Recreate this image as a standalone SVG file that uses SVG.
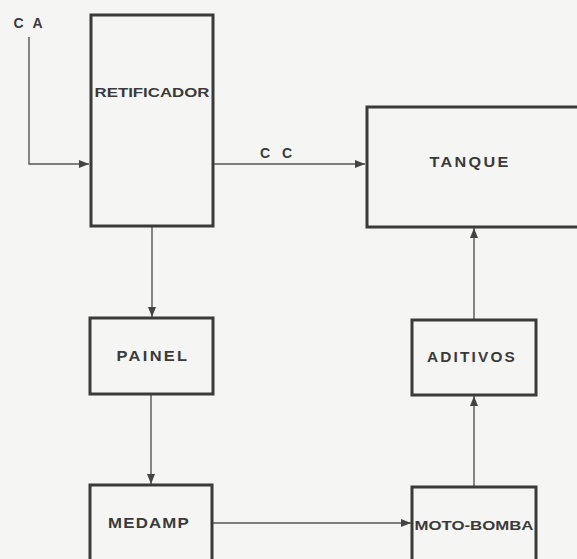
<svg xmlns="http://www.w3.org/2000/svg" width="577" height="559" viewBox="0 0 577 559">
<style>
.box{fill:none;stroke:#3a3a3a;stroke-width:3}
.lbl{font-family:"Liberation Sans",Arial,sans-serif;font-weight:bold;font-size:14px;fill:#3a3a3a;text-anchor:middle;dominant-baseline:central}
.sm{font-size:13px}
.con{fill:none;stroke:#555;stroke-width:1.4}
</style>
<defs>
<marker id="ah" viewBox="0 0 10 8" refX="10" refY="4" markerWidth="10" markerHeight="8" markerUnits="userSpaceOnUse" orient="auto">
<path d="M0,0 L10,4 L0,8 Z" fill="#444"/>
</marker>
</defs>
<rect width="577" height="559" fill="#f5f5f3"/>
<g id="connectors">
<path class="con" d="M29,37 V164 H89" marker-end="url(#ah)"/>
<path class="con" d="M213,164 H365" marker-end="url(#ah)"/>
<path class="con" d="M152,227 V317" marker-end="url(#ah)"/>
<path class="con" d="M151,394 V484" marker-end="url(#ah)"/>
<path class="con" d="M213,523 H411" marker-end="url(#ah)"/>
<path class="con" d="M474,487 V396" marker-end="url(#ah)"/>
<path class="con" d="M474,320 V228" marker-end="url(#ah)"/>
<text class="lbl" x="28" y="23" textLength="29" lengthAdjust="spacing">C A</text>
<text class="lbl" x="276" y="153" textLength="32" lengthAdjust="spacing">C C</text>
</g>
<g id="retificador">
<rect class="box" x="91" y="15" width="122" height="211"/>
<text class="lbl sm" x="152" y="92" textLength="115" lengthAdjust="spacingAndGlyphs">RETIFICADOR</text>
</g>
<g id="tanque">
<rect class="box" x="367" y="107" width="220" height="120"/>
<text class="lbl" x="470" y="162" textLength="81" lengthAdjust="spacingAndGlyphs" letter-spacing="2">TANQUE</text>
</g>
<g id="painel">
<rect class="box" x="90" y="318" width="123" height="76"/>
<text class="lbl" x="153" y="356" textLength="73" lengthAdjust="spacingAndGlyphs" letter-spacing="2">PAINEL</text>
</g>
<g id="medamp">
<rect class="box" x="90" y="485" width="122" height="100"/>
<text class="lbl" x="149" y="523" textLength="82" lengthAdjust="spacingAndGlyphs" letter-spacing="1">MEDAMP</text>
</g>
<g id="aditivos">
<rect class="box" x="412" y="320" width="124" height="75"/>
<text class="lbl" x="472" y="357" textLength="90" lengthAdjust="spacingAndGlyphs" letter-spacing="2">ADITIVOS</text>
</g>
<g id="moto-bomba">
<rect class="box" x="412" y="487" width="124" height="100"/>
<text class="lbl sm" x="474" y="525" textLength="119" lengthAdjust="spacingAndGlyphs">MOTO-BOMBA</text>
</g>
</svg>
